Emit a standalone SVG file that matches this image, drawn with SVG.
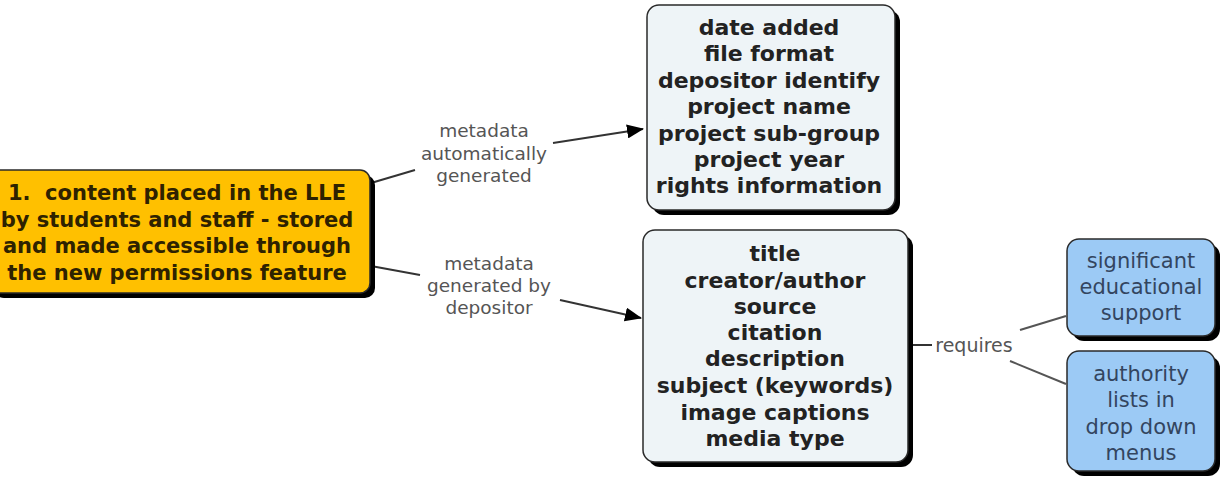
<svg xmlns="http://www.w3.org/2000/svg" width="1221" height="480" viewBox="0 0 1221 480">
<defs>
<style>
.shadow{fill:#000}
.box{stroke:#2a2a2a;stroke-width:1.5}
.yellow{fill:#ffc000}
.pale{fill:#eef4f7}
.blue{fill:#9ccaf5}
.bt{font-family:"DejaVu Sans",Verdana,sans-serif;font-weight:bold;text-anchor:middle}
.yt{font-size:21px;fill:#2e2200}
.pt{font-size:22px;fill:#222}
.rt{font-family:"DejaVu Sans",Verdana,sans-serif;font-size:21px;fill:#33455f;text-anchor:middle}
.lbl{font-family:"DejaVu Sans",Verdana,sans-serif;font-size:18.5px;fill:#555;text-anchor:middle}
.ln{stroke:#333;stroke-width:2;fill:none}
.gl{stroke:#555;stroke-width:2;fill:none}
</style>
<marker id="arr" markerUnits="userSpaceOnUse" markerWidth="18" markerHeight="14" refX="16" refY="7" orient="auto">
<path d="M0,0 L17,7 L0,14 Z" fill="#000"/>
</marker>
</defs>
<rect width="1221" height="480" fill="#fff"/>

<g id="connectors">
<line class="ln" x1="371" y1="183" x2="415" y2="170"/>
<line class="ln" x1="553" y1="143" x2="643" y2="129" marker-end="url(#arr)"/>
<line class="ln" x1="371" y1="266" x2="420" y2="275"/>
<line class="ln" x1="560" y1="300" x2="641" y2="318" marker-end="url(#arr)"/>
<line class="ln" x1="908" y1="345" x2="932" y2="345"/>
<line class="gl" x1="1020" y1="330" x2="1066" y2="316"/>
<line class="gl" x1="1010" y1="361" x2="1066" y2="384"/>
<text class="lbl" x="484" y="137">metadata</text>
<text class="lbl" x="484" y="160">automatically</text>
<text class="lbl" x="484" y="182">generated</text>
<text class="lbl" x="489" y="270">metadata</text>
<text class="lbl" x="489" y="292">generated by</text>
<text class="lbl" x="489" y="314">depositor</text>
<text class="lbl" x="974" y="352" style="font-size:19px">requires</text>
</g>

<g id="node-content">
<rect class="shadow" x="-6" y="175" width="381" height="123" rx="10"/>
<rect class="box yellow" x="-11" y="170" width="381" height="123" rx="10"/>
<text class="bt yt" x="177" y="200">1.&#160; content placed in the LLE</text>
<text class="bt yt" x="177" y="227">by students and staff - stored</text>
<text class="bt yt" x="177" y="253">and made accessible through</text>
<text class="bt yt" x="177" y="280">the new permissions feature</text>
</g>

<g id="node-auto">
<rect class="shadow" x="652" y="10" width="248" height="205" rx="12"/>
<rect class="box pale" x="647" y="5" width="248" height="205" rx="12"/>
<text class="bt pt" x="769" y="35">date added</text>
<text class="bt pt" x="769" y="61">file format</text>
<text class="bt pt" x="769" y="88">depositor identify</text>
<text class="bt pt" x="769" y="114">project name</text>
<text class="bt pt" x="769" y="141">project sub-group</text>
<text class="bt pt" x="769" y="167">project year</text>
<text class="bt pt" x="769" y="193">rights information</text>
</g>

<g id="node-depositor">
<rect class="shadow" x="648" y="235" width="265" height="232" rx="12"/>
<rect class="box pale" x="643" y="230" width="265" height="232" rx="12"/>
<text class="bt pt" x="775" y="261">title</text>
<text class="bt pt" x="775" y="288">creator/author</text>
<text class="bt pt" x="775" y="314">source</text>
<text class="bt pt" x="775" y="340">citation</text>
<text class="bt pt" x="775" y="366">description</text>
<text class="bt pt" x="775" y="393">subject (keywords)</text>
<text class="bt pt" x="775" y="420">image captions</text>
<text class="bt pt" x="775" y="446">media type</text>
</g>

<g id="node-support">
<rect class="shadow" x="1072" y="244" width="148" height="97" rx="12"/>
<rect class="box blue" x="1067" y="239" width="148" height="97" rx="12"/>
<text class="rt" x="1141" y="268">significant</text>
<text class="rt" x="1141" y="294">educational</text>
<text class="rt" x="1141" y="320">support</text>
</g>

<g id="node-authority">
<rect class="shadow" x="1072" y="356" width="148" height="120" rx="12"/>
<rect class="box blue" x="1067" y="351" width="148" height="120" rx="12"/>
<text class="rt" x="1141" y="381">authority</text>
<text class="rt" x="1141" y="407">lists in</text>
<text class="rt" x="1141" y="434">drop down</text>
<text class="rt" x="1141" y="460">menus</text>
</g>
</svg>
